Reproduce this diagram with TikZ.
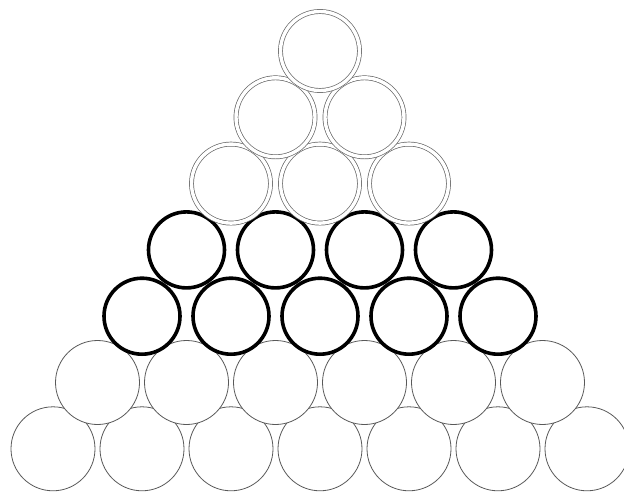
\documentclass[tikz,border=0pt]{standalone}
\begin{document}
\begin{tikzpicture}[x=1pt,y=-1pt,
 thinball/.style={circle,draw=black!65,line width=0.8pt,fill=white,minimum size=84pt,inner sep=0pt},
 boldball/.style={circle,draw=black,line width=3.6pt,fill=white,minimum size=76pt,inner sep=0pt},
 ringball/.style={circle,draw=black!60,line width=0.7pt,double=white,double distance=3.4pt,fill=white,minimum size=79pt,inner sep=0pt}]
\useasboundingbox (0,0) rectangle (624,492);
\foreach \k in {7,6}{
  \pgfmathsetmacro\yy{51+66.3*(\k-1)}
  \foreach \i in {1,...,\k}{
    \pgfmathsetmacro\xx{320+89*(\i-(\k+1)/2)}
    \node[thinball] (b\k-\i) at (\xx,\yy) {};
  }
}
\foreach \k in {5,4}{
  \pgfmathsetmacro\yy{51+66.3*(\k-1)}
  \foreach \i in {1,...,\k}{
    \pgfmathsetmacro\xx{320+89*(\i-(\k+1)/2)}
    \node[boldball] (b\k-\i) at (\xx,\yy) {};
  }
}
\foreach \k in {3,2,1}{
  \pgfmathsetmacro\yy{51+66.3*(\k-1)}
  \foreach \i in {1,...,\k}{
    \pgfmathsetmacro\xx{320+89*(\i-(\k+1)/2)}
    \node[ringball] (b\k-\i) at (\xx,\yy) {};
  }
}
\end{tikzpicture}
\end{document}
